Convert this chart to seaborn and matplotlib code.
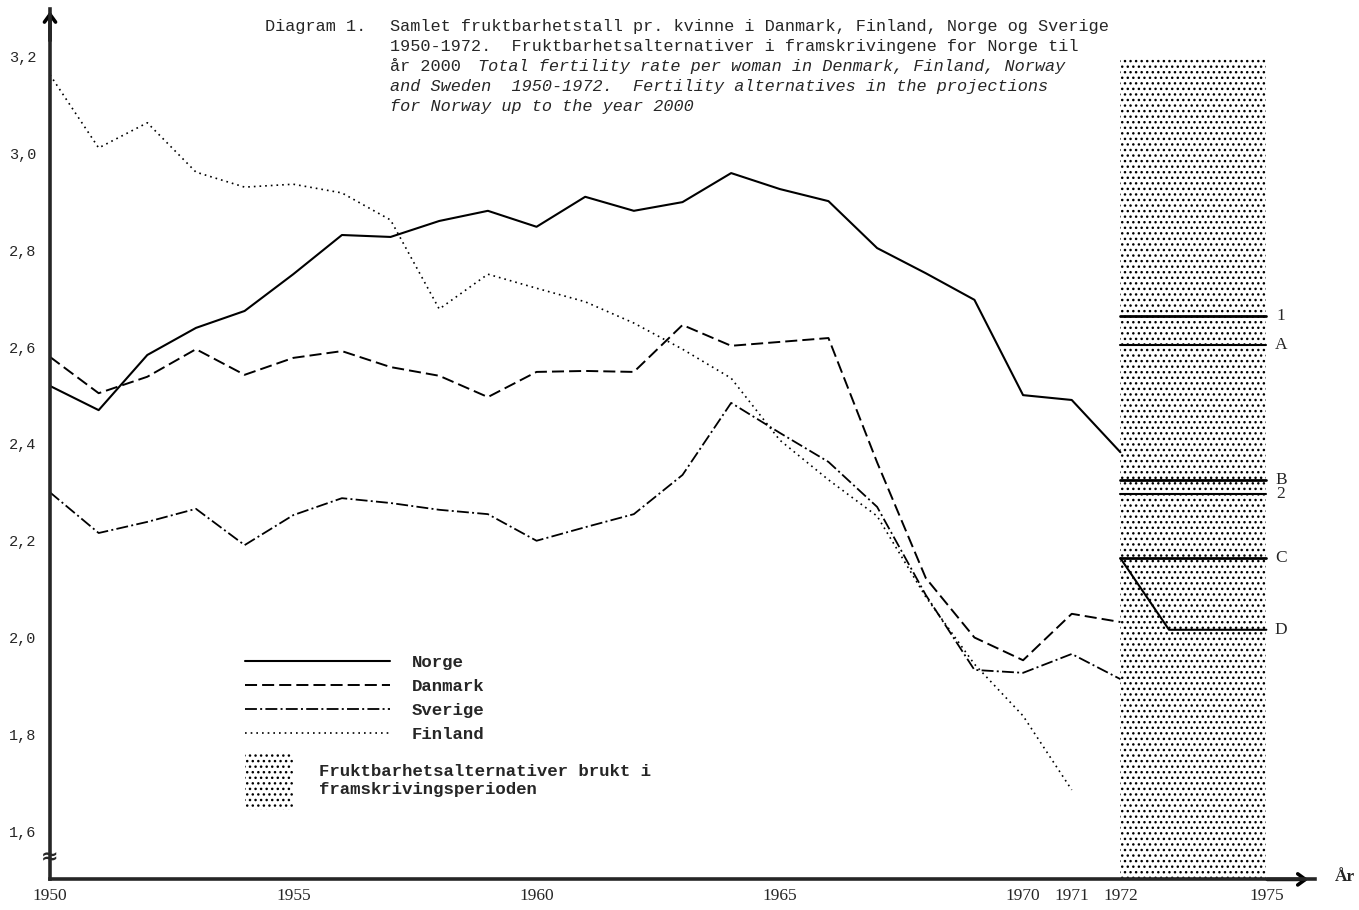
import matplotlib
matplotlib.use("Agg")
import matplotlib.pyplot as plt
from matplotlib.patches import Patch
import seaborn as sns

# --- data ---
years = list(range(1950, 1973))
norge = [2.52, 2.47, 2.584, 2.64, 2.675, 2.751, 2.832, 2.828, 2.861, 2.882, 2.849,
         2.911, 2.882, 2.900, 2.960, 2.927, 2.902, 2.805, 2.753, 2.698, 2.501, 2.491, 2.383]
danmark = [2.58, 2.505, 2.539, 2.596, 2.543, 2.578, 2.592, 2.559, 2.541, 2.497, 2.549,
           2.551, 2.549, 2.646, 2.603, 2.611, 2.619, 2.362, 2.123, 2.0, 1.953, 2.049, 2.032]
sverige = [2.30, 2.216, 2.239, 2.266, 2.191, 2.253, 2.288, 2.278, 2.264, 2.255, 2.20,
           2.228, 2.255, 2.336, 2.485, 2.423, 2.363, 2.270, 2.088, 1.933, 1.927, 1.966, 1.914]
finland_years = list(range(1950, 1972))
finland = [3.163, 3.012, 3.064, 2.962, 2.931, 2.937, 2.919, 2.863, 2.679, 2.751, 2.722,
           2.694, 2.650, 2.596, 2.536, 2.408, 2.326, 2.251, 2.084, 1.945, 1.838, 1.685]

# projection alternatives (1972 -> 1973 -> 1975)
proj_years = [1972, 1973, 1975]
proj_labels = ['1', 'A', 'B', '2', 'C', 'D']
proj_1972 = [2.665, 2.605, 2.326, 2.297, 2.164, 2.164]
proj_1973 = [2.665, 2.605, 2.326, 2.297, 2.164, 2.016]
proj_1975 = [2.665, 2.605, 2.326, 2.297, 2.164, 2.016]
proj_period = [1972, 1975]
shade_top = 3.2

x_ticks = [1950, 1955, 1960, 1965, 1970, 1971, 1972, 1975]
y_ticks = [1.6, 1.8, 2.0, 2.2, 2.4, 2.6, 2.8, 3.0, 3.2]
y_tick_labels = ['1,6', '1,8', '2,0', '2,2', '2,4', '2,6', '2,8', '3,0', '3,2']

sns.set_style("white")
plt.rcParams['font.family'] = ['Liberation Mono', 'DejaVu Sans']
plt.rcParams['hatch.linewidth'] = 1.0

fig = plt.figure(figsize=(13.59, 9.10), dpi=100)
ax = fig.add_axes([50 / 1359, 30.6 / 910, 1265 / 1359, 870.8 / 910])

# shaded projection period
ax.fill_between(proj_period, 1.5, shade_top, facecolor='white', edgecolor='black',
                hatch='...', linewidth=0, zorder=1)

sns.lineplot(x=years, y=norge, ax=ax, color='black', linewidth=1.5, label='Norge',
             estimator=None, zorder=3)
sns.lineplot(x=years, y=danmark, ax=ax, color='black', linewidth=1.4,
             linestyle=(0, (6.2, 2.6)), label='Danmark', estimator=None, zorder=3)
sns.lineplot(x=years, y=sverige, ax=ax, color='black', linewidth=1.3,
             linestyle=(0, (6.6, 1.8, 1.1, 1.8)), label='Sverige', estimator=None, zorder=3)
sns.lineplot(x=finland_years, y=finland, ax=ax, color='black', linewidth=1.2,
             linestyle=(0, (1, 2.4)), label='Finland', estimator=None, zorder=3)

thick = {'1': 2.0, 'B': 2.0, 'C': 2.0}
for lab, a, b, c in zip(proj_labels, proj_1972, proj_1973, proj_1975):
    sns.lineplot(x=proj_years, y=[a, b, c], ax=ax, color='black',
                 linewidth=thick.get(lab, 1.5), estimator=None, zorder=4, legend=False)
    ax.text(1975.3, c, lab, ha='center', va='center', fontsize=12.5,
            family='Liberation Serif', zorder=5)

ax.set_xlim(1950, 1976)
ax.set_ylim(1.5, 3.3)

# axes styling
for s in ['top', 'right']:
    ax.spines[s].set_visible(False)
for s in ['left', 'bottom']:
    ax.spines[s].set_linewidth(2.6)
    ax.spines[s].set_zorder(6)

ax.set_xticks(x_ticks)
ax.set_xticklabels([str(t) for t in x_ticks], family='Liberation Serif', fontsize=12.5)
ax.set_yticks(y_ticks)
ax.set_yticklabels(y_tick_labels, fontsize=11)
ax.tick_params(axis='y', direction='out', length=6, width=1.2, pad=4)
ax.tick_params(axis='x', direction='in', length=6, width=1.2, pad=6)

# arrows at axis ends
arrow = dict(arrowstyle='->,head_length=0.55,head_width=0.4', lw=2.6, color='black')
ax.annotate('', xy=(0, 1.0), xytext=(0, 0.96), xycoords='axes fraction',
            arrowprops=arrow, annotation_clip=False)
ax.annotate('', xy=(0.997, 0), xytext=(0.96, 0), xycoords='axes fraction',
            arrowprops=arrow, annotation_clip=False)
ax.text(1976.4, 1.505, 'År', ha='left', va='center', fontsize=12.5,
        family='Liberation Serif', fontweight='bold')
ax.text(1950, 1.545, '≈', ha='center', va='center', fontsize=15, zorder=7,
        family='DejaVu Sans', fontweight='bold')

# legend for the series
handles, labels = ax.get_legend_handles_labels()
leg1 = ax.legend(handles[:4], labels[:4], loc='upper left',
                 bbox_to_anchor=(1954.0, 1.964), bbox_transform=ax.transData,
                 frameon=False, prop=dict(family='Liberation Mono', size=12.5, weight='bold'),
                 handlelength=8.35, handletextpad=1.27,
                 labelspacing=0.5, borderpad=0, borderaxespad=0)
ax.add_artist(leg1)
patch = Patch(facecolor='white', edgecolor='black', hatch='...', linewidth=0)
leg2 = ax.legend([patch], ['Fruktbarhetsalternativer brukt i\nframskrivingsperioden'],
                 loc='upper left', bbox_to_anchor=(1954.0, 1.759),
                 bbox_transform=ax.transData, frameon=False,
                 prop=dict(family='Liberation Mono', size=12.5, weight='bold'),
                 handlelength=2.76, handleheight=4.58, handletextpad=1.55,
                 borderpad=0, borderaxespad=0)
for t in leg2.get_texts():
    t.set_linespacing(1.26)

# title block
fs = 12.2
fig.text(265 / 1359, 1 - 19 / 910, 'Diagram 1.', ha='left', va='top', fontsize=fs)
fig.text(390 / 1359, 1 - 19 / 910,
         'Samlet fruktbarhetstall pr. kvinne i Danmark, Finland, Norge og Sverige',
         ha='left', va='top', fontsize=fs)
fig.text(390 / 1359, 1 - 39 / 910,
         '1950-1972.  Fruktbarhetsalternativer i framskrivingene for Norge til',
         ha='left', va='top', fontsize=fs)
fig.text(390 / 1359, 1 - 59 / 910, 'år 2000', ha='left', va='top', fontsize=fs)
fig.text(478 / 1359, 1 - 59 / 910,
         'Total fertility rate per woman in Denmark, Finland, Norway',
         ha='left', va='top', fontsize=fs, style='italic')
fig.text(390 / 1359, 1 - 79 / 910,
         'and Sweden  1950-1972.  Fertility alternatives in the projections',
         ha='left', va='top', fontsize=fs, style='italic')
fig.text(390 / 1359, 1 - 99 / 910, 'for Norway up to the year 2000',
         ha='left', va='top', fontsize=fs, style='italic')

fig.savefig('out.png', dpi=100)
